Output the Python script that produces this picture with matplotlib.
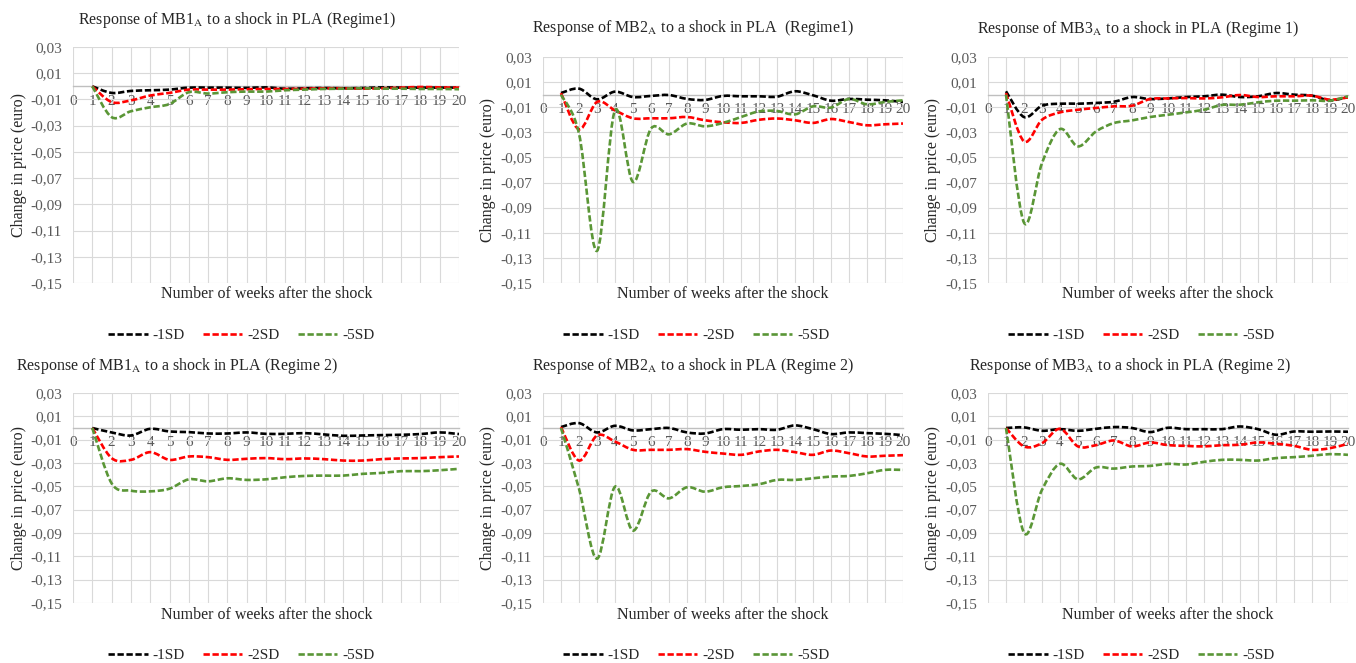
import matplotlib
matplotlib.use("Agg")
import matplotlib.pyplot as plt
import numpy as np
from matplotlib.path import Path
from matplotlib.patches import PathPatch
from matplotlib.lines import Line2D
from matplotlib.ticker import FuncFormatter

plt.rcParams['font.family'] = ['Liberation Serif', 'DejaVu Serif']
plt.rcParams['mathtext.fontset'] = 'stix'

weeks = np.arange(1, 21)
series_names = ["-1SD", "-2SD", "-5SD"]
colors = ["#000000", "#ff0000", "#5a9636"]

# Regime 1
mb1_r1_sd1 = [0.0, -0.005, -0.0035, -0.003, -0.0025, -0.001, -0.001, -0.001, -0.0012, -0.0008,
              -0.0018, -0.0015, -0.0013, -0.0015, -0.0013, -0.0008, -0.001, -0.001, -0.001, -0.001]
mb1_r1_sd2 = [0.0, -0.012, -0.0107, -0.007, -0.005, -0.0025, -0.0025, -0.0025, -0.0022, -0.002,
              -0.002, -0.0018, -0.0015, -0.0015, -0.0018, -0.0015, -0.001, -0.0005, -0.0008, -0.001]
mb1_r1_sd5 = [0.0, -0.0235, -0.019, -0.016, -0.0135, -0.0045, -0.0055, -0.0045, -0.004, -0.004,
              -0.003, -0.0025, -0.002, -0.0018, -0.0015, -0.0018, -0.0018, -0.002, -0.002, -0.0022]

mb2_r1_sd1 = [0.0013, 0.0048, -0.0037, 0.0024, -0.0019, -0.001, -0.0003, -0.0034, -0.0042, -0.001,
              -0.0013, -0.0013, -0.0016, 0.0027, -0.0005, -0.0048, -0.0034, -0.004, -0.0045, -0.0058]
mb2_r1_sd2 = [0.0013, -0.0276, -0.0058, -0.0125, -0.0188, -0.0188, -0.0188, -0.0178, -0.0204, -0.022,
              -0.0225, -0.02, -0.019, -0.0204, -0.0225, -0.0194, -0.0218, -0.0244, -0.0236, -0.023]
mb2_r1_sd5 = [0.0, -0.031, -0.1244, -0.0125, -0.0695, -0.027, -0.0316, -0.023, -0.0252, -0.0225,
              -0.0178, -0.0133, -0.013, -0.0157, -0.0093, -0.0103, -0.0034, -0.0077, -0.0058, -0.0045]

mb3_r1_sd1 = [0.0027, -0.0178, -0.0088, -0.0072, -0.0072, -0.0066, -0.0056, -0.0019, -0.0035, -0.003,
              -0.0019, -0.0013, 0.0, -0.0019, -0.0013, 0.0013, 0.0, -0.0008, -0.0045, -0.0019]
mb3_r1_sd2 = [0.0013, -0.0372, -0.02, -0.0141, -0.012, -0.0106, -0.0093, -0.0088, -0.0035, -0.003,
              -0.0027, -0.003, -0.0021, -0.0003, -0.0019, -0.0013, -0.0013, -0.0008, -0.004, -0.0021]
mb3_r1_sd5 = [0.0, -0.1019, -0.0545, -0.0274, -0.0412, -0.0293, -0.0226, -0.0205, -0.0178, -0.016,
              -0.0141, -0.012, -0.0082, -0.008, -0.0061, -0.0048, -0.0048, -0.0045, -0.0048, -0.0013]

# Regime 2
mb1_r2_sd1 = [0.0, -0.0038, -0.0064, -0.0007, -0.003, -0.0035, -0.0047, -0.0047, -0.0038, -0.005,
              -0.005, -0.0044, -0.0055, -0.0067, -0.0064, -0.0061, -0.0058, -0.0052, -0.0038, -0.0052]
mb1_r2_sd2 = [0.0, -0.0258, -0.0273, -0.0207, -0.0273, -0.0244, -0.025, -0.0273, -0.0264, -0.0258,
              -0.0267, -0.0261, -0.0267, -0.0279, -0.0279, -0.0267, -0.0261, -0.0258, -0.025, -0.0244]
mb1_r2_sd5 = [0.0, -0.0474, -0.0537, -0.0543, -0.052, -0.044, -0.0457, -0.0431, -0.0445, -0.044,
              -0.0422, -0.0411, -0.0408, -0.0408, -0.0393, -0.0385, -0.037, -0.037, -0.0362, -0.035]

mb2_r2_sd1 = [0.0008, 0.0042, -0.0038, 0.0019, -0.0021, -0.001, 0.0, -0.0038, -0.0047, -0.001,
              -0.0015, -0.001, -0.0015, 0.0022, -0.001, -0.0052, -0.0038, -0.0044, -0.005, -0.0061]
mb2_r2_sd2 = [0.0008, -0.0279, -0.0064, -0.0116, -0.0187, -0.0187, -0.0187, -0.0181, -0.0204, -0.0219,
              -0.023, -0.0201, -0.0187, -0.0207, -0.023, -0.0193, -0.0216, -0.0244, -0.0238, -0.0233]
mb2_r2_sd5 = [0.0, -0.052, -0.112, -0.0503, -0.088, -0.0546, -0.0603, -0.0508, -0.0546, -0.0508,
              -0.0497, -0.0482, -0.0445, -0.0445, -0.0431, -0.0416, -0.0411, -0.0388, -0.0359, -0.0359]

mb3_r2_sd1 = [0.0, 0.0005, -0.0024, -0.001, -0.0024, -0.0007, 0.0008, 0.0, -0.0035, 0.0002,
              -0.001, -0.001, -0.001, 0.0013, -0.001, -0.0058, -0.003, -0.0032, -0.003, -0.0032]
mb3_r2_sd2 = [0.0, -0.0158, -0.013, -0.0007, -0.0158, -0.0147, -0.0107, -0.0158, -0.0124, -0.0147,
              -0.0153, -0.0158, -0.0147, -0.0144, -0.0124, -0.0135, -0.0153, -0.0187, -0.0173, -0.0135]
mb3_r2_sd5 = [0.0, -0.0898, -0.053, -0.0307, -0.044, -0.0339, -0.0348, -0.033, -0.0325, -0.0307,
              -0.0313, -0.029, -0.0273, -0.0273, -0.0279, -0.0258, -0.025, -0.0238, -0.0224, -0.023]

titles = [r"Response of MB1$_{\mathrm{A}}$ to a shock in PLA (Regime1)",
          r"Response of MB2$_{\mathrm{A}}$ to a shock in PLA  (Regime1)",
          r"Response of MB3$_{\mathrm{A}}$ to a shock in PLA (Regime 1)",
          r"Response of MB1$_{\mathrm{A}}$ to a shock in PLA (Regime 2)",
          r"Response of MB2$_{\mathrm{A}}$ to a shock in PLA (Regime 2)",
          r"Response of MB3$_{\mathrm{A}}$ to a shock in PLA (Regime 2)"]
panel_data = [[mb1_r1_sd1, mb1_r1_sd2, mb1_r1_sd5],
              [mb2_r1_sd1, mb2_r1_sd2, mb2_r1_sd5],
              [mb3_r1_sd1, mb3_r1_sd2, mb3_r1_sd5],
              [mb1_r2_sd1, mb1_r2_sd2, mb1_r2_sd5],
              [mb2_r2_sd1, mb2_r2_sd2, mb2_r2_sd5],
              [mb3_r2_sd1, mb3_r2_sd2, mb3_r2_sd5]]

W, H = 1356, 663
# pixel layout: plot box (l, r, t, b), title (x, y), ylabel x, xlabel (x, y), legend (x, y)
layout = [
    ((73, 459, 47, 283), (237, 20), 19, (267, 294), (241, 335)),
    ((543, 903, 57, 283), (693, 28), 488, (723, 294), (696, 335)),
    ((988, 1348, 57, 283), (1138, 29), 933, (1168, 294), (1141, 335)),
    ((73, 459, 393, 603), (177, 366), 19, (267, 615), (241, 655)),
    ((543, 903, 393, 603), (693, 366), 488, (723, 615), (696, 655)),
    ((988, 1348, 393, 603), (1130, 366), 933, (1168, 615), (1141, 655)),
]

dash = (0, (2.4, 1.0))
text_col = "#262626"
tick_col = "#595959"


def smooth(x, y):
    # Excel-style smoothed line: cubic bezier through the points
    p = np.column_stack([x, y])
    q = np.vstack([p[:1], p, p[-1:]])
    verts = [p[0]]
    codes = [Path.MOVETO]
    for i in range(len(p) - 1):
        c1 = q[i + 1] + (q[i + 2] - q[i]) / 6
        c2 = q[i + 2] - (q[i + 3] - q[i + 1]) / 6
        verts += [c1, c2, q[i + 2]]
        codes += [Path.CURVE4] * 3
    return Path(np.array(verts), codes)


fig = plt.figure(figsize=(W / 100, H / 100), dpi=100)
fmt = FuncFormatter(lambda v, _: f"{v:.2f}".replace(".", ","))

for k in range(6):
    (l, r, t, b), (tx, ty), ylx, (xlx, xly), (lgx, lgy) = layout[k]
    ax = fig.add_axes([l / W, 1 - b / H, (r - l) / W, (b - t) / H])
    ax.set_xlim(0, 20)
    ax.set_ylim(-0.15, 0.03)
    ax.set_xticks(range(0, 21))
    ax.set_yticks(np.round(np.arange(-0.15, 0.031, 0.02), 2))
    ax.yaxis.set_major_formatter(fmt)
    ax.grid(True, color="#d9d9d9", lw=0.8)
    ax.set_axisbelow(True)
    for s in ["left", "right", "top"]:
        ax.spines[s].set_visible(False)
    ax.spines["bottom"].set_position(("data", 0))
    ax.spines["bottom"].set_color("#bfbfbf")
    ax.spines["bottom"].set_linewidth(1.0)
    ax.tick_params(axis="x", length=0, pad=6, labelsize=11, labelcolor=tick_col)
    ax.tick_params(axis="y", length=0, pad=8, labelsize=11, labelcolor=tick_col)

    handles = []
    for vals, c, name in zip(panel_data[k], colors, series_names):
        patch = PathPatch(smooth(weeks, vals), fill=False, edgecolor=c, lw=1.9,
                          linestyle=dash, capstyle="butt", zorder=3)
        ax.add_patch(patch)
        handles.append(Line2D([], [], color=c, lw=1.9, linestyle=dash, label=name))

    fig.text(tx / W, 1 - ty / H, titles[k], ha="center", va="center",
             fontsize=11.5, color=text_col)
    fig.text(ylx / W, 1 - (t + b) / 2 / H, "Change in price (euro)", rotation=90,
             ha="center", va="center", fontsize=11.5, color=text_col)
    fig.text(xlx / W, 1 - xly / H, "Number of weeks after the shock", ha="center",
             va="center", fontsize=11.5, color=text_col)
    fig.legend(handles=handles, loc="center", bbox_to_anchor=(lgx / W, 1 - lgy / H),
               ncol=3, frameon=False, fontsize=11, handlelength=2.6,
               handletextpad=0.3, columnspacing=1.2, labelcolor=text_col)

fig.savefig("out.png", dpi=100)
